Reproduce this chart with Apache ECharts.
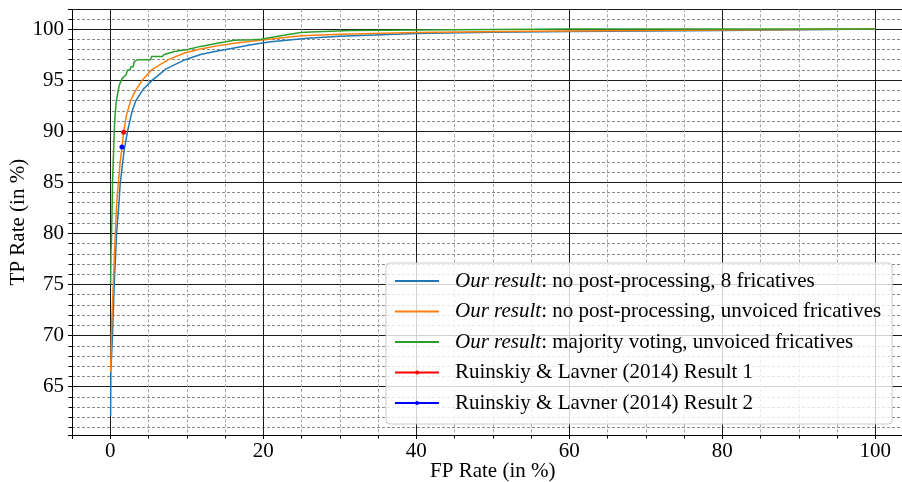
<!DOCTYPE html>
<html>
<head>
<meta charset="utf-8">
<script src="https://cdn.jsdelivr.net/npm/echarts@6/dist/echarts.min.js"></script>
<style>
  html, body { margin: 0; padding: 0; background: #fff; }
  #chart { width: 902px; height: 482px; }
</style>
</head>
<body>
<div id="chart"></div>
<script>
// ROC curves, values (FP rate / TP rate in %)
const blueFpr = [0.05, 0.08, 0.2, 0.3, 0.52, 0.83, 1.17, 1.3, 1.83, 2.27, 2.8, 3.35, 4.3, 5.5, 7.3, 9.8, 11.8, 14.0, 16.2, 18.4, 21.0, 25.8, 30, 40, 50, 60, 70, 80, 90, 100];
const blueTpr = [62.16, 66.6, 68.5, 70.2, 75.1, 80.0, 83.3, 84.9, 88.2, 90.0, 91.8, 93.0, 94.1, 95.0, 96.1, 97.0, 97.5, 97.85, 98.15, 98.45, 98.75, 99.1, 99.3, 99.57, 99.68, 99.75, 99.8, 99.86, 99.93, 100];

const orangeFpr = [0.05, 0.1, 0.2, 0.4, 0.66, 0.87, 1.05, 1.3, 1.53, 1.75, 2.1, 2.7, 3.4, 4.2, 5.4, 7.6, 9.7, 11.8, 14.0, 16.2, 18.4, 21.9, 25, 30, 40, 55, 70, 85, 100];
const orangeTpr = [66.4, 68.5, 71.5, 75.1, 80.0, 83.3, 84.9, 87.0, 88.4, 89.9, 91.5, 93.1, 94.1, 95.0, 96.0, 97.0, 97.65, 98.04, 98.35, 98.6, 98.8, 99.1, 99.35, 99.5, 99.67, 99.78, 99.86, 99.94, 100];

const greenFpr = [0.05, 0.09, 0.18, 0.3, 0.44, 0.52, 0.61, 0.8, 1.0, 1.18, 1.4, 1.6, 2.05, 2.27, 2.6, 2.7, 3.0, 3.13, 3.6, 5.3, 5.4, 6.8, 7.05, 8.4, 10.1, 11.8, 14.0, 16.2, 18.4, 19.7, 21.9, 24.9, 26.2, 31.4, 40, 50, 60, 100];
const greenTpr = [75.0, 78.0, 80.0, 84.9, 88.2, 89.9, 91.4, 93.0, 93.8, 94.5, 94.9, 95.2, 95.5, 96.0, 96.0, 96.3, 96.3, 96.8, 97.0, 97.0, 97.3, 97.3, 97.5, 97.8, 98.0, 98.3, 98.6, 98.9, 98.95, 99.0, 99.3, 99.65, 99.7, 99.86, 99.9, 99.95, 100, 100];

// single operating points from Ruinskiy & Lavner (2014)
const ruinskiy1 = [1.75, 89.9];
const ruinskiy2 = [1.53, 88.45];

const seriesNames = ['blue', 'orange', 'green', 'r1', 'r2'];
const legendLabels = {
  blue: '{sp|}{i|Our result}{n|: no post-processing, 8 fricatives}',
  orange: '{sp|}{i|Our result}{n|: no post-processing, unvoiced fricatives}',
  green: '{sp|}{i|Our result}{n|: majority voting, unvoiced fricatives}',
  r1: '{sp|}{n|Ruinskiy & Lavner (2014) Result 1}',
  r2: '{sp|}{n|Ruinskiy & Lavner (2014) Result 2}'
};

const xMajorTicks = [0, 20, 40, 60, 80, 100];
const yMajorTicks = [65, 70, 75, 80, 85, 90, 95, 100];

const FONT = "'Liberation Serif', 'DejaVu Serif', serif";

function pairs(xs, ys) {
  return xs.map((x, i) => [x, ys[i]]);
}

const myChart = echarts.init(document.getElementById('chart'));

const option = {
  animation: false,
  backgroundColor: '#fff',
  textStyle: { fontFamily: FONT },
  grid: { left: 72, top: 9.3, bottom: 47, right: -11.5, containLabel: false, outerBoundsMode: 'none' },
  xAxis: [
    {
      // minor grid, every 5
      type: 'value', min: -5, max: 105, minInterval: 5, maxInterval: 5,
      position: 'bottom',
      axisLine: { show: true, onZero: false, lineStyle: { color: '#000', width: 1 } },
      axisTick: { show: true, length: 3.5, lineStyle: { color: '#000' } },
      axisLabel: { show: false },
      splitLine: { show: true, lineStyle: { color: '#a5a5a5', type: [3, 2], width: 1 } }
    },
    {
      // major grid, every 20
      type: 'value', min: -5, max: 105, minInterval: 20, maxInterval: 20,
      position: 'bottom',
      axisLine: { show: false, onZero: false },
      axisTick: { show: true, length: 4, lineStyle: { color: '#000' } },
      axisLabel: {
        margin: 6, color: '#000', fontFamily: FONT, fontSize: 21,
        formatter: v => (xMajorTicks.indexOf(v) >= 0 ? String(v) : '')
      },
      splitLine: { show: true, lineStyle: { color: '#1a1a1a', width: 1 } },
      name: 'FP Rate (in %)', nameLocation: 'middle', nameGap: 26, nameMoveOverlap: false,
      nameTextStyle: { color: '#000', fontFamily: FONT, fontSize: 21 }
    }
  ],
  yAxis: [
    {
      // minor grid, every 1
      type: 'value', min: 60.27, max: 101.93, minInterval: 1, maxInterval: 1,
      position: 'left',
      axisLine: { show: true, onZero: false, lineStyle: { color: '#000', width: 1 } },
      axisTick: { show: true, length: 3.5, lineStyle: { color: '#000' } },
      axisLabel: { show: false },
      splitLine: { show: true, lineStyle: { color: '#8a8a8a', type: [3, 2], width: 1 } }
    },
    {
      // major grid, every 5
      type: 'value', min: 60.27, max: 101.93, minInterval: 5, maxInterval: 5,
      position: 'left',
      axisLine: { show: false, onZero: false },
      axisTick: { show: true, length: 4, lineStyle: { color: '#000' } },
      axisLabel: {
        margin: 8, color: '#000', fontFamily: FONT, fontSize: 21,
        formatter: v => (yMajorTicks.indexOf(v) >= 0 ? String(v) : '')
      },
      splitLine: { show: true, lineStyle: { color: '#1a1a1a', width: 1 } },
      name: 'TP Rate (in %)', nameLocation: 'middle', nameGap: 43, nameMoveOverlap: false,
      nameTextStyle: { color: '#000', fontFamily: FONT, fontSize: 21 }
    }
  ],
  legend: {
    orient: 'vertical',
    left: 386, top: 263,
    padding: [6, 11, 9, 8],
    itemGap: 6.5,
    itemWidth: 44, itemHeight: 5,
    backgroundColor: 'rgba(255,255,255,0.8)',
    borderColor: '#cccccc', borderWidth: 1, borderRadius: 4,
    data: [
      { name: 'blue', itemStyle: { opacity: 0 } },
      { name: 'orange', itemStyle: { opacity: 0 } },
      { name: 'green', itemStyle: { opacity: 0 } },
      { name: 'r1' },
      { name: 'r2' }
    ],
    formatter: name => legendLabels[name],
    textStyle: {
      color: '#000', fontFamily: FONT, fontSize: 21, lineHeight: 24,
      rich: {
        sp: { width: 11 },
        i: { fontStyle: 'italic', fontFamily: FONT, fontSize: 21, lineHeight: 24, color: '#000' },
        n: { fontFamily: FONT, fontSize: 21, lineHeight: 24, color: '#000' }
      }
    }
  },
  series: [
    {
      name: seriesNames[0], type: 'line', data: pairs(blueFpr, blueTpr),
      symbol: 'none', color: '#1f77b4',
      lineStyle: { width: 1.5 }, z: 3
    },
    {
      name: seriesNames[1], type: 'line', data: pairs(orangeFpr, orangeTpr),
      symbol: 'none', color: '#ff7f0e',
      lineStyle: { width: 1.5 }, z: 4
    },
    {
      name: seriesNames[2], type: 'line', data: pairs(greenFpr, greenTpr),
      symbol: 'none', color: '#2ca02c',
      lineStyle: { width: 1.5 }, z: 5
    },
    {
      name: seriesNames[3], type: 'line', data: [ruinskiy1],
      symbol: 'circle', symbolSize: 5, color: '#ff0000',
      lineStyle: { width: 1.5 }, z: 6
    },
    {
      name: seriesNames[4], type: 'line', data: [ruinskiy2],
      symbol: 'circle', symbolSize: 5, color: '#0000ff',
      lineStyle: { width: 1.5 }, z: 6
    }
  ]
};

myChart.setOption(option);
</script>
</body>
</html>
